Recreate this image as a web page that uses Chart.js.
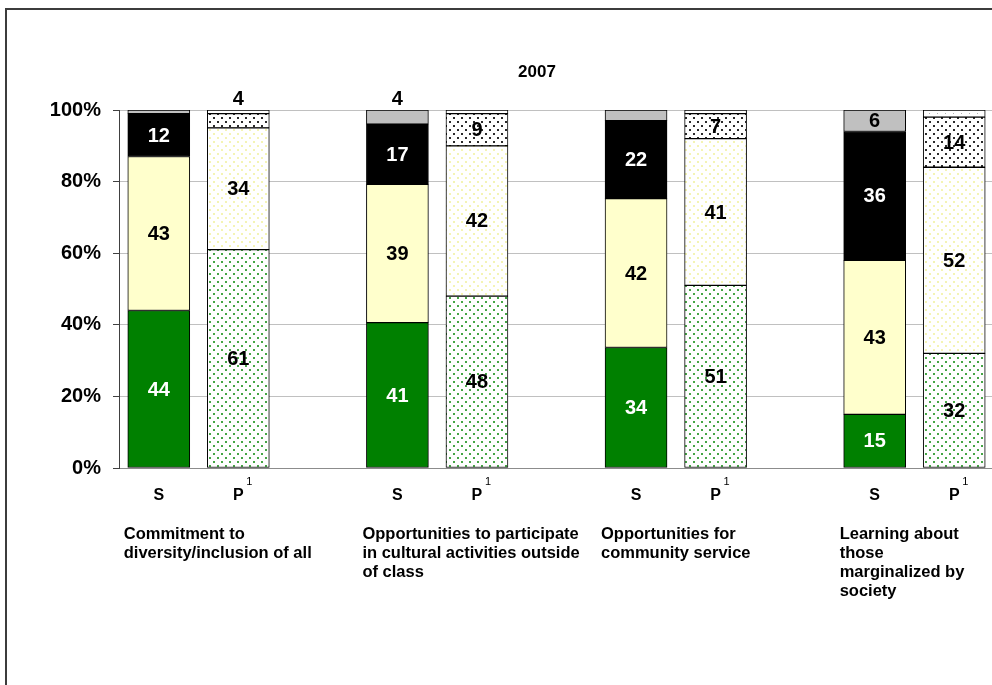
<!DOCTYPE html>
<html>
<head>
<meta charset="utf-8">
<script src="https://cdn.jsdelivr.net/npm/chart.js@4.4.1/dist/chart.umd.min.js"></script>
<style>
  html, body { margin: 0; padding: 0; background: #fff; width: 992px; height: 685px; overflow: hidden; }
  #frame { position: absolute; left: 5px; top: 8px; width: 1100px; height: 800px;
           border-left: 2px solid #3c3c3c; border-top: 2px solid #3c3c3c; }
  #chart { position: absolute; left: 0; top: 0; }
</style>
</head>
<body>
<div id="frame"></div>
<canvas id="chart" width="1074" height="685"></canvas>
<script>
const title = "2007";
const categoryLines = [
    ["Commitment to", "diversity/inclusion of all"],
    ["Opportunities to participate", "in cultural activities outside", "of class"],
    ["Opportunities for", "community service"],
    ["Learning about", "those", "marginalized by", "society"]
];
const barNames = ["S", "P"];

// S bars (solid fills), bottom to top
const sGreen  = [44, 41, 34, 15];
const sYellow = [43, 39, 42, 43];
const sBlack  = [12, 17, 22, 36];
const sGray   = [1, 4, 3, 6];
// P bars (patterned fills), bottom to top
const pGreen  = [61, 48, 51, 32];
const pYellow = [34, 42, 41, 52];
const pDots   = [4, 9, 7, 14];
const pTop    = [1, 1, 1, 2];

// which values get a data label (null = no label)
const sGrayLabels = [null, 4, null, 6];
const pTopLabels  = [null, null, null, null];

const FONT = "'Liberation Sans', Arial, sans-serif";

function dotPattern(bg, dot, size, both) {
    const c = document.createElement("canvas");
    c.width = 8; c.height = 8;
    const g = c.getContext("2d");
    g.fillStyle = bg;
    g.fillRect(0, 0, 8, 8);
    g.fillStyle = dot;
    g.fillRect(1, 1, size, size);
    if (both) g.fillRect(5, 5, size, size);
    return g.createPattern(c, "repeat");
}

const pat = {
    green: dotPattern("#ffffff", "#45a545", 2, true),
    yellow: dotPattern("#ffffff", "#f4f4b4", 2, true),
    dots: dotPattern("#ffffff", "#2a2a2a", 2, true),
    top: dotPattern("#ffffff", "#b0b0b0", 1, false)
};

// category slots: S, P, gap, S, P, gap, ...
const labels = [];
categoryLines.forEach((c, g) => {
    labels.push(barNames[0], barNames[1]);
    if (g < categoryLines.length - 1) labels.push("");
});

const sTotals = sGreen.map((v, i) => v + sYellow[i] + sBlack[i] + sGray[i]);
const pTotals = pGreen.map((v, i) => v + pYellow[i] + pDots[i] + pTop[i]);

function buildSeries(sVals, pVals, sFill, pFill, sText, pText, sLabels, pLabels) {
    const data = [], bg = [], txt = [], txtColor = [];
    categoryLines.forEach((c, g) => {
        data.push(sVals[g] / sTotals[g] * 100);
        bg.push(sFill); txt.push(sLabels[g]); txtColor.push(sText);
        data.push(pVals[g] / pTotals[g] * 100);
        bg.push(pFill); txt.push(pLabels[g]); txtColor.push(pText);
        if (g < categoryLines.length - 1) {
            data.push(null); bg.push("#fff"); txt.push(null); txtColor.push("#000");
        }
    });
    return {
        data: data,
        backgroundColor: bg,
        borderColor: "#000",
        borderWidth: 1,
        borderSkipped: false,
        labelText: txt,
        labelColor: txtColor
    };
}

const datasets = [
    buildSeries(sGreen, pGreen, "#008000", pat.green, "#ffffff", "#000000", sGreen, pGreen),
    buildSeries(sYellow, pYellow, "#ffffcc", pat.yellow, "#000000", "#000000", sYellow, pYellow),
    buildSeries(sBlack, pDots, "#000000", pat.dots, "#ffffff", "#000000", sBlack, pDots),
    buildSeries(sGray, pTop, "#c0c0c0", pat.top, "#000000", "#000000", sGrayLabels, pTopLabels)
];

const textPlugin = {
    id: "textPlugin",
    afterDatasetsDraw(chart) {
        const ctx = chart.ctx;
        const top = chart.scales.y.getPixelForValue(100);
        ctx.save();
        ctx.font = "bold 20px " + FONT;
        ctx.textAlign = "center";
        ctx.textBaseline = "middle";
        chart.data.datasets.forEach((ds, di) => {
            chart.getDatasetMeta(di).data.forEach((bar, i) => {
                const t = ds.labelText[i];
                if (t == null) return;
                const p = bar.getProps(["x", "y", "base"], true);
                const h = p.base - p.y;
                if (h < 20) {
                    ctx.fillStyle = "#000";
                    ctx.fillText(String(t), p.x, top - 11);
                } else {
                    ctx.fillStyle = ds.labelColor[i];
                    ctx.fillText(String(t), p.x, (p.y + p.base) / 2 + 1);
                }
            });
        });
        ctx.restore();
    },
    afterDraw(chart) {
        const ctx = chart.ctx;
        const x = chart.scales.x;
        const slot = x.getPixelForValue(1) - x.getPixelForValue(0);
        ctx.save();
        ctx.fillStyle = "#000";
        // title
        ctx.font = "bold 17px " + FONT;
        ctx.textAlign = "center";
        ctx.textBaseline = "middle";
        ctx.fillText(title, 537, 72);
        // S / P labels
        labels.forEach((l, i) => {
            if (!l) return;
            const cx = x.getPixelForValue(i);
            ctx.font = "bold 16px " + FONT;
            ctx.textAlign = "center";
            ctx.fillText(l, cx, 496);
            if (l === "P") {
                ctx.font = "11px " + FONT;
                ctx.fillText("1", cx + 11, 482);
            }
        });
        // category labels
        ctx.font = "bold 16.5px " + FONT;
        ctx.textAlign = "left";
        ctx.textBaseline = "alphabetic";
        categoryLines.forEach((lines, g) => {
            const cx = x.getPixelForValue(g * 3);
            const left = cx - slot * 0.39 - 4;
            lines.forEach((line, k) => ctx.fillText(line, left, 539 + k * 19));
        });
        ctx.restore();
    }
};

new Chart(document.getElementById("chart"), {
    type: "bar",
    data: { labels: labels, datasets: datasets },
    plugins: [textPlugin],
    options: {
        responsive: false,
        maintainAspectRatio: false,
        devicePixelRatio: 1,
        animation: false,
        layout: { padding: { left: 0, right: 80, top: 110, bottom: 0 } },
        plugins: {
            legend: { display: false },
            title: { display: false },
            tooltip: { enabled: false }
        },
        datasets: { bar: { barThickness: 62, categoryPercentage: 1.0 } },
        scales: {
            x: {
                stacked: true,
                ticks: { display: false },
                grid: { display: false, drawTicks: false },
                border: { display: true, color: "#8c8c8c", width: 1 },
                afterFit(scale) { scale.height = 217; }
            },
            y: {
                stacked: true,
                min: 0,
                max: 100,
                ticks: {
                    stepSize: 20,
                    padding: 12,
                    color: "#000",
                    font: { family: FONT, size: 20, weight: "bold" },
                    callback: v => v + "%"
                },
                grid: { color: "#c0c0c0", tickLength: 6, tickColor: "#404040" },
                border: { display: true, color: "#404040", width: 1 },
                afterFit(scale) { scale.width = 119; }
            }
        }
    }
});
</script>
</body>
</html>
